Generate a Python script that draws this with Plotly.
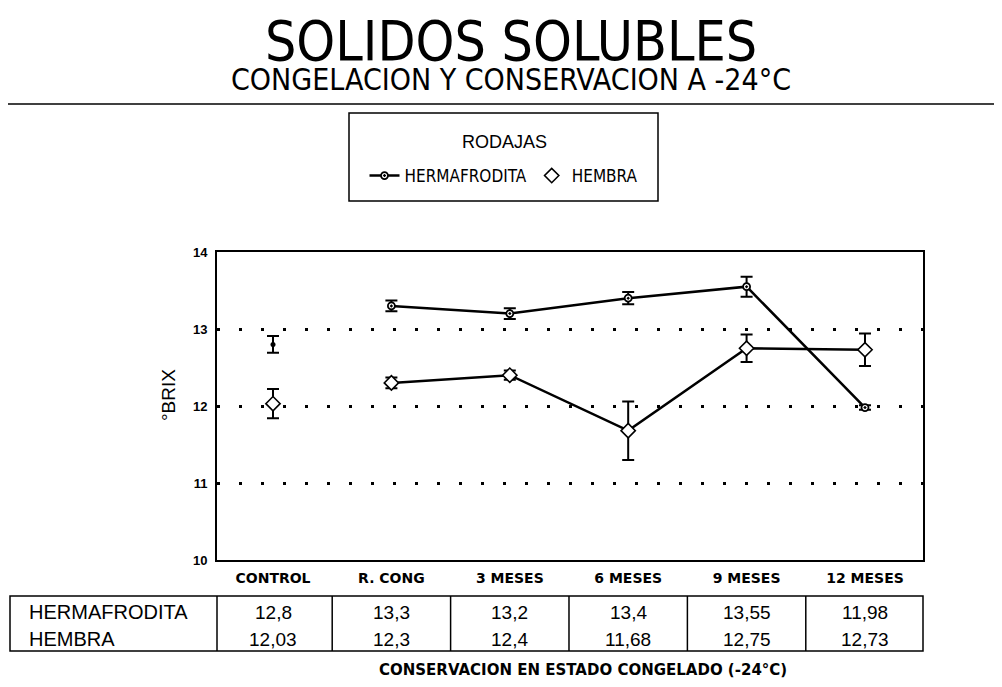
import plotly.graph_objects as go

# ---- data ----
categories = ["CONTROL", "R. CONG", "3 MESES", "6 MESES", "9 MESES", "12 MESES"]
hermafrodita = [12.8, 13.3, 13.2, 13.4, 13.55, 11.98]
hembra = [12.03, 12.3, 12.4, 11.68, 12.75, 12.73]
herm_err = [0.11, 0.07, 0.07, 0.08, 0.13, 0.03]
hembra_err = [0.19, 0.07, 0.06, 0.38, 0.18, 0.21]
y_ticks = [10, 11, 12, 13, 14]
row_labels = ["HERMAFRODITA", "HEMBRA"]

FONTC = "DejaVu Sans Condensed, Liberation Sans, sans-serif"
FONT2 = "Liberation Sans, Arial, sans-serif"
FONTB = "DejaVu Sans, Liberation Sans, sans-serif"

OFF = 8  # page body margin
W, H = 1002 - 2 * OFF, 687 - 2 * OFF
# plot area in page pixels
PL, PR, PT, PB = 217, 923, 252, 560
PW, PH = PR - PL, PB - PT


def px(x):
    return (x - PL) / PW


def py(y):
    return (PB - y) / PH


err = dict(type="data", color="black", thickness=2, width=6)

fig = go.Figure()
# connecting lines (control not joined)
fig.add_trace(go.Scatter(
    x=categories[1:], y=hembra[1:], mode="lines", showlegend=False, hoverinfo="skip",
    line=dict(color="black", width=2.5)))
fig.add_trace(go.Scatter(
    x=categories[1:], y=hermafrodita[1:], mode="lines+markers", name="HERMAFRODITA",
    line=dict(color="black", width=2.5),
    marker=dict(symbol="circle-dot", size=7, color="white", line=dict(color="black", width=1.8)),
    error_y=dict(array=herm_err[1:], **err)))
fig.add_trace(go.Scatter(
    x=categories[:1], y=hermafrodita[:1], mode="markers", showlegend=False,
    marker=dict(symbol="circle", size=5, color="black"),
    error_y=dict(array=herm_err[:1], **err)))
fig.add_trace(go.Scatter(
    x=categories, y=hembra, mode="markers", name="HEMBRA",
    marker=dict(symbol="diamond", size=11, color="white", line=dict(color="black", width=1.6)),
    error_y=dict(array=hembra_err, **err)))

fig.update_xaxes(
    type="category", categoryorder="array", categoryarray=categories,
    range=[-0.473, 5.49], showline=True, mirror=True, linecolor="black",
    linewidth=2, ticks="", showgrid=False, zeroline=False, ticklabelstandoff=4,
    tickfont=dict(family=FONTB, size=14, color="black", weight="bold"))
fig.update_yaxes(
    range=[10, 14], tickvals=y_ticks, showline=True, mirror=True, linecolor="black",
    linewidth=2, ticks="", showgrid=True, gridcolor="black", gridwidth=2.5,
    griddash="2.5px,19.5px", zeroline=False, ticklabelstandoff=5,
    tickfont=dict(family=FONT2, size=13, color="black", weight="bold"))

shapes = []
ann = []


def text(t, x, y, size, family=FONT2, weight="normal", xanchor="center", xref="paper"):
    ann.append(dict(text=t, x=x, y=py(y), xref=xref, yref="paper", xanchor=xanchor,
                    yanchor="middle", showarrow=False,
                    font=dict(family=family, size=size, color="black", weight=weight)))


# title block (title + subtitle in one text block)
title_txt = ("<span style='font-size:55px'>SOLIDOS SOLUBLES</span><br>"
             "<span style='font-size:30px'>CONGELACION Y CONSERVACION A -24°C</span>")
text(title_txt, px(511), 53, 23, FONTC)
shapes.append(dict(type="line", xref="paper", yref="paper", x0=px(0), x1=px(1002),
                   y0=py(104), y1=py(104), line=dict(color="black", width=1.5)))

# legend frame
shapes.append(dict(type="rect", xref="paper", yref="paper", x0=px(349), x1=px(658),
                   y0=py(113), y1=py(201), line=dict(color="black", width=1.5)))
text("RODAJAS", px(504), 142, 18, FONT2)

# y axis title
ann.append(dict(text="°BRIX", x=px(168), y=py(395), xref="paper", yref="paper",
                xanchor="center", yanchor="middle", textangle=-90, showarrow=False,
                font=dict(family=FONT2, size=19, color="black")))

# data table
tt, tb = 596, 651
shapes.append(dict(type="rect", xref="paper", yref="paper", x0=px(10), x1=px(923),
                   y0=py(tt), y1=py(tb), line=dict(color="black", width=1.5)))
shapes.append(dict(type="line", xref="paper", yref="paper", x0=px(217), x1=px(217),
                   y0=py(tt), y1=py(tb), line=dict(color="black", width=1.5)))
for i in range(len(categories) - 1):
    shapes.append(dict(type="line", xref="x", yref="paper", x0=i + 0.5, x1=i + 0.5,
                       y0=py(tt), y1=py(tb), line=dict(color="black", width=1.5)))
rows_y = [612, 639]
for lab, yy in zip(row_labels, rows_y):
    text(lab, px(27), yy, 20, FONT2, xanchor="left")
for series, yy in zip([hermafrodita, hembra], rows_y):
    for c, v in zip(categories, series):
        text(f"{v:g}".replace(".", ","), c, yy, 19, FONT2, xref="x")

text("CONSERVACION EN ESTADO CONGELADO (-24°C)", px(583), 670, 15, FONTB, weight="bold")

fig.update_layout(
    width=W, height=H, autosize=False,
    margin=dict(l=PL - OFF, r=W - (PR - OFF), t=PT - OFF, b=H - (PB - OFF)),
    paper_bgcolor="white", plot_bgcolor="white",
    shapes=shapes, annotations=ann,
    legend=dict(orientation="h", x=px(504), xanchor="center", y=py(176), yanchor="middle",
                bgcolor="rgba(0,0,0,0)", borderwidth=0, itemwidth=30, tracegroupgap=0,
                font=dict(family=FONTC, size=17, color="black")),
)

fig.write_html("out.html")
